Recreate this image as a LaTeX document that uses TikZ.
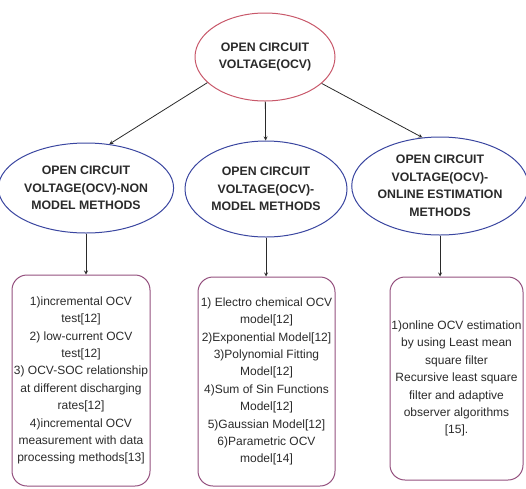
\documentclass[tikz,border=0pt]{standalone}
\usepackage{fontspec}
\setmainfont{Liberation Sans}
\usetikzlibrary{shapes.geometric}
\definecolor{topred}{HTML}{C8586A}
\definecolor{elblue}{HTML}{3A46A0}
\definecolor{boxpur}{HTML}{94507E}
\definecolor{txtgray}{HTML}{2A2A2A}
\tikzset{
  oval/.style={ellipse,draw=elblue,line width=1pt,inner sep=0pt,align=center,
    text=txtgray,font=\fontsize{12.3}{17.5}\selectfont\bfseries},
  listbox/.style={rectangle,rounded corners=15pt,draw=boxpur,line width=1pt,inner sep=0pt,
    align=center,text=txtgray,font=\fontsize{12}{17.4}\selectfont},
  link/.style={->,line width=.8pt,draw=txtgray}
}
\begin{document}
\begin{tikzpicture}[x=1pt,y=-1pt,>=stealth]
\useasboundingbox (0,0) rectangle (526,488);
\node[oval,draw=topred,minimum width=140pt,minimum height=88pt] (ocv) at (265,57) {OPEN CIRCUIT\\VOLTAGE(OCV)};
\node[oval,minimum width=150pt,minimum height=90pt] (nonmod) at (86,188) {OPEN CIRCUIT\\VOLTAGE(OCV)-NON\\MODEL METHODS};
\node[oval,minimum width=162pt,minimum height=96pt] (mod) at (266,189) {OPEN CIRCUIT\\VOLTAGE(OCV)-\\MODEL METHODS};
\node[oval,minimum width=164pt,minimum height=98pt] (online) at (440,186) {OPEN CIRCUIT\\VOLTAGE(OCV)-\\ONLINE ESTIMATION\\METHODS};
\node[listbox,minimum width=138pt,minimum height=211pt] (nonbox) at (81,380.5) {1)incremental OCV\\test[12]\\2) low-current OCV\\test[12]\\3) OCV-SOC relationship\\at different discharging\\rates[12]\\4)incremental OCV\\measurement with data\\processing methods[13]};
\node[listbox,minimum width=137pt,minimum height=209pt] (modbox) at (266.5,381.5) {1) Electro chemical OCV\\model[12]\\2)Exponential Model[12]\\3)Polynomial Fitting\\Model[12]\\4)Sum of Sin Functions\\Model[12]\\5)Gaussian Model[12]\\6)Parametric OCV\\model[14]};
\node[listbox,minimum width=133pt,minimum height=203pt] (onbox) at (456.5,378.5) {1)online OCV estimation\\by using Least mean\\square filter\\Recursive least square\\filter and adaptive\\observer algorithms\\{}[15].};
\draw[link] (ocv.204) -- (nonmod.62);
\draw[link] (ocv) -- (mod);
\draw[link] (ocv.-25) -- (online.110);
\foreach \e/\b in {nonmod/nonbox,mod/modbox,online/onbox}{\draw[link] (\e.south) -- (\e.south |- \b.north);}
\end{tikzpicture}
\end{document}
